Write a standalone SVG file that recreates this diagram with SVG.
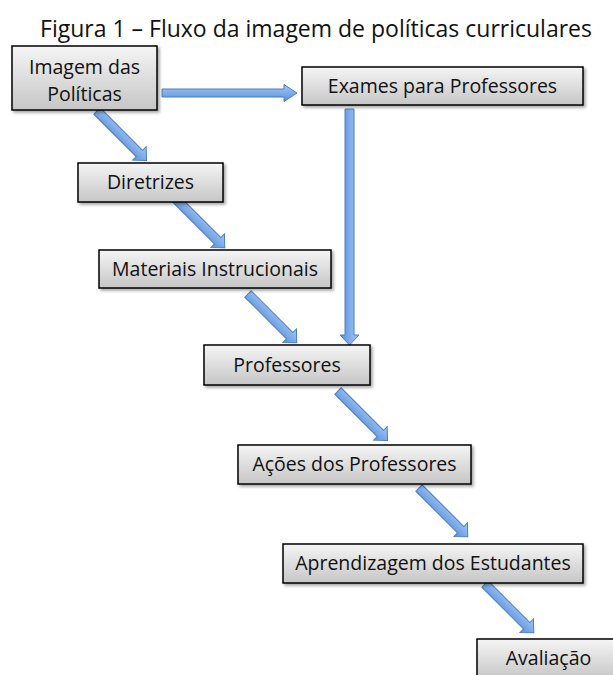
<svg xmlns="http://www.w3.org/2000/svg" width="613" height="675" viewBox="0 0 613 675">
  <defs>
    <linearGradient id="boxGrad" x1="0" y1="0" x2="0" y2="1">
      <stop offset="0" stop-color="#f5f5f5"/>
      <stop offset="1" stop-color="#c6c6c6"/>
    </linearGradient>
    <linearGradient id="arrGrad" x1="0" y1="0" x2="0" y2="1">
      <stop offset="0" stop-color="#a4c8f6"/>
      <stop offset="1" stop-color="#5a8fdb"/>
    </linearGradient>
    <filter id="shadow" x="-10%" y="-20%" width="130%" height="160%">
      <feDropShadow dx="2" dy="2" stdDeviation="1.5" flood-color="#000" flood-opacity="0.35"/>
    </filter>
  </defs>
  <style>
    .box { fill: url(#boxGrad); stroke: #000; stroke-width: 1.5; filter: url(#shadow); }
    .lbl { font-family: "Open Sans", "Liberation Sans", sans-serif; font-size: 19.5px; fill: #111; text-anchor: middle; }
    .title { font-family: "Open Sans", "Liberation Sans", sans-serif; font-size: 23px; fill: #111; text-anchor: middle; }
    .arr { fill: url(#arrGrad); stroke: #4a7ebb; stroke-width: 1; }
  </style>
  <rect width="613" height="675" fill="#fff"/>
  <text class="title" x="316" y="37">Figura 1 – Fluxo da imagem de políticas curriculares</text>

  <g id="connectors">
    <!-- Imagem -> Exames -->
    <path class="arr" transform="translate(162,93)" d="M0,-4 H122 V-8.5 L135,0 L122,8.5 V4 H0 Z"/>
    <!-- Exames -> Professores -->
    <path class="arr" transform="translate(349.5,109) rotate(90)" d="M0,-4.5 H226 V-9.5 L236,0 L226,9.5 V4.5 H0 Z"/>
    <!-- diagonals -->
    <path class="arr" transform="translate(97,111) rotate(45)" d="M0,-4.5 H60 V-9.5 L70,0 L60,9.5 V4.5 H0 Z"/>
    <path class="arr" transform="translate(176,199) rotate(45)" d="M0,-4.5 H59 V-9.5 L69,0 L59,9.5 V4.5 H0 Z"/>
    <path class="arr" transform="translate(248,294) rotate(45)" d="M0,-4.5 H59 V-9.5 L69,0 L59,9.5 V4.5 H0 Z"/>
    <path class="arr" transform="translate(338,391) rotate(45)" d="M0,-4.5 H60 V-9.5 L70,0 L60,9.5 V4.5 H0 Z"/>
    <path class="arr" transform="translate(419,488) rotate(45)" d="M0,-4.5 H59 V-9.5 L69,0 L59,9.5 V4.5 H0 Z"/>
    <path class="arr" transform="translate(485,584) rotate(45)" d="M0,-4.5 H59 V-9.5 L69,0 L59,9.5 V4.5 H0 Z"/>
  </g>

  <g id="n-imagem">
    <rect class="box" x="12" y="46" width="145" height="64"/>
    <text class="lbl" x="84.5" y="74">Imagem das</text>
    <text class="lbl" x="84.5" y="101">Políticas</text>
  </g>
  <g id="n-exames">
    <rect class="box" x="302" y="67" width="281" height="38"/>
    <text class="lbl" x="442.5" y="93">Exames para Professores</text>
  </g>
  <g id="n-diretrizes">
    <rect class="box" x="78" y="163" width="145" height="39"/>
    <text class="lbl" x="150.5" y="189">Diretrizes</text>
  </g>
  <g id="n-materiais">
    <rect class="box" x="99" y="250" width="232" height="38"/>
    <text class="lbl" x="215" y="276">Materiais Instrucionais</text>
  </g>
  <g id="n-professores">
    <rect class="box" x="204" y="345" width="166" height="40"/>
    <text class="lbl" x="287" y="372">Professores</text>
  </g>
  <g id="n-acoes">
    <rect class="box" x="238" y="445" width="233" height="39"/>
    <text class="lbl" x="354.5" y="471">Ações dos Professores</text>
  </g>
  <g id="n-aprendizagem">
    <rect class="box" x="283" y="544" width="300" height="39"/>
    <text class="lbl" x="433" y="570">Aprendizagem dos Estudantes</text>
  </g>
  <g id="n-avaliacao">
    <rect class="box" x="477" y="639" width="143" height="40"/>
    <text class="lbl" x="548.5" y="665">Avaliação</text>
  </g>
</svg>
